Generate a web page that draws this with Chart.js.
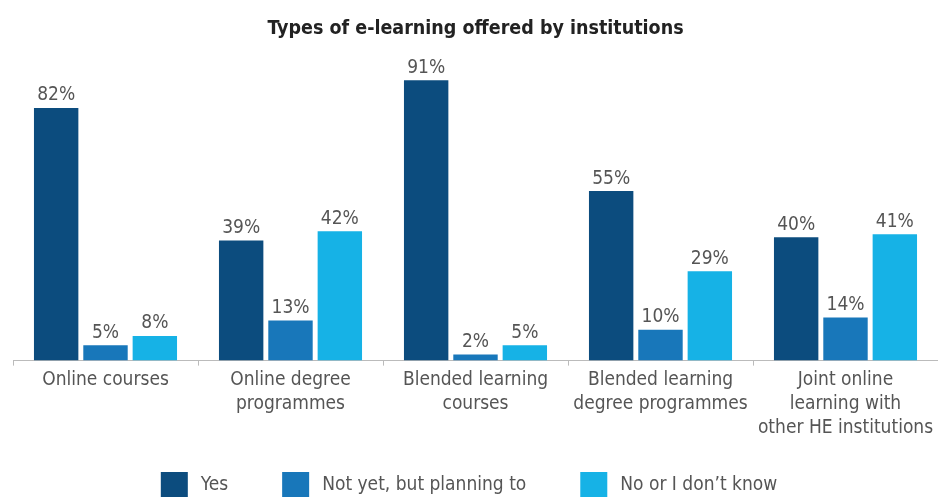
<!DOCTYPE html>
<html>
<head>
<meta charset="utf-8">
<script src="https://cdn.jsdelivr.net/npm/chart.js@4"></script>
<style>
  html, body { margin: 0; padding: 0; background: #fff; overflow: hidden; }
  #wrap { width: 938px; height: 497px; }
</style>
</head>
<body>
<div id="wrap"><canvas id="elearnChart"></canvas></div>
<script>
// Data
const categories = [
    ['Online courses'],
    ['Online degree', 'programmes'],
    ['Blended learning', 'courses'],
    ['Blended learning', 'degree programmes'],
    ['Joint online', 'learning with', 'other HE institutions']
];
const yesValues = [82, 39, 91, 55, 40];
const planningValues = [5, 13, 2, 10, 14];
const noValues = [8, 42, 5, 29, 41];
const seriesNames = ['Yes', 'Not yet, but planning to', 'No or I don\u2019t know'];
const seriesColors = ['#0c4c7e', '#1877ba', '#16b2e6'];

const FONT = "'Liberation Sans Narrow', 'DejaVu Sans Condensed', sans-serif";

// Draws the percentage above each bar
const valueLabels = {
    id: 'valueLabels',
    afterDatasetsDraw(chart) {
        const ctx = chart.ctx;
        ctx.save();
        ctx.fillStyle = '#555';
        ctx.font = '19px ' + FONT;
        ctx.textAlign = 'center';
        ctx.textBaseline = 'bottom';
        chart.data.datasets.forEach((ds, i) => {
            chart.getDatasetMeta(i).data.forEach((bar, j) => {
                ctx.fillText(ds.data[j] + '%', bar.x, bar.y - 3);
            });
        });
        ctx.restore();
    }
};

// Legend along the bottom, spaced like the original
const bottomLegend = {
    id: 'bottomLegend',
    afterDraw(chart) {
        const ctx = chart.ctx;
        ctx.save();
        ctx.font = '19px ' + FONT;
        ctx.textBaseline = 'middle';
        const boxW = 27, boxH = 26, boxGap = 13, itemGap = 54, cy = 485;
        const items = chart.data.datasets.map(ds => ({
            label: ds.label, color: ds.backgroundColor,
            w: boxW + boxGap + ctx.measureText(ds.label).width
        }));
        const total = items.reduce((s, it) => s + it.w, 0) + itemGap * (items.length - 1);
        let x = (chart.width - total) / 2;
        items.forEach(it => {
            ctx.fillStyle = it.color;
            ctx.fillRect(x, cy - 13, boxW, boxH);
            ctx.fillStyle = '#555';
            ctx.fillText(it.label, x + boxW + boxGap, cy);
            x += it.w + itemGap;
        });
        ctx.restore();
    }
};

const ctx = document.getElementById('elearnChart').getContext('2d');
const chart = new Chart(ctx, {
    type: 'bar',
    data: {
        labels: categories,
        datasets: [
            { label: seriesNames[0], data: yesValues, backgroundColor: seriesColors[0] },
            { label: seriesNames[1], data: planningValues, backgroundColor: seriesColors[1] },
            { label: seriesNames[2], data: noValues, backgroundColor: seriesColors[2] }
        ]
    },
    options: {
        responsive: true,
        maintainAspectRatio: false,
        animation: false,
        categoryPercentage: 0.8,
        barPercentage: 0.9,
        layout: { padding: { left: 13, right: 0, top: 0, bottom: 55 } },
        scales: {
            x: {
                grid: { drawOnChartArea: false, color: '#bbb', tickLength: 5, offset: true },
                border: { color: '#bbb' },
                ticks: {
                    color: '#555',
                    font: { family: FONT, size: 19, lineHeight: 1.27 },
                    padding: 2, maxRotation: 0, autoSkip: false
                }
            },
            y: {
                display: false,
                min: 0,
                max: 100
            }
        },
        plugins: {
            title: {
                display: true,
                text: 'Types of e-learning offered by institutions',
                color: '#222',
                font: { family: FONT, size: 19.5, weight: 'bold' },
                padding: { top: 17, bottom: 12 }
            },
            legend: { display: false },
            tooltip: { enabled: false }
        }
    },
    plugins: [valueLabels, bottomLegend]
});
</script>
</body>
</html>
